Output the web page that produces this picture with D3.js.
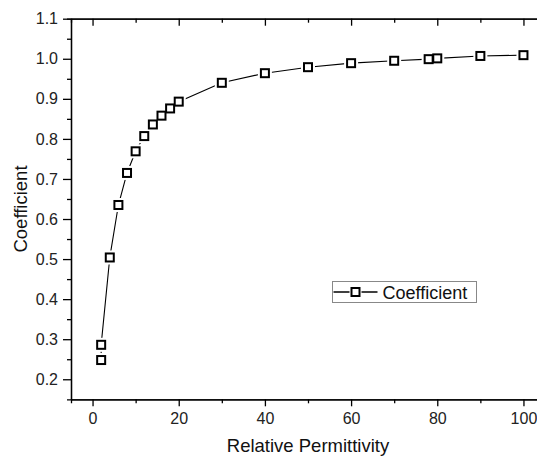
<!DOCTYPE html>
<html>
<head>
<meta charset="utf-8">
<script src="https://cdn.jsdelivr.net/npm/d3@7"></script>
<style>
  body { margin: 0; background: #fff; }
  svg { display: block; font-family: Arial, "Liberation Sans", sans-serif; }
  .axis path, .axis line { stroke: #000; stroke-width: 1.3; }
  .axis text { fill: #222; font-size: 16px; }
</style>
</head>
<body>
<svg width="537" height="459"></svg>
<script>
// relative permittivity values
var permittivity = [2, 2, 4, 6, 8, 10, 12, 14, 16, 18, 20, 30, 40, 50, 60, 70, 78, 80, 90, 100];
// coefficient at each permittivity
var coefficient = [0.248, 0.286, 0.504, 0.635, 0.715, 0.769, 0.807, 0.836, 0.858, 0.876, 0.893, 0.940, 0.964, 0.979, 0.989, 0.995, 0.999, 1.001, 1.007, 1.009];
var xMajor = [0, 20, 40, 60, 80, 100];
var xMinor = [10, 30, 50, 70, 90];
var yMajor = [0.2, 0.3, 0.4, 0.5, 0.6, 0.7, 0.8, 0.9, 1.0, 1.1];
var yMinor = [0.25, 0.35, 0.45, 0.55, 0.65, 0.75, 0.85, 0.95, 1.05];
var seriesName = "Coefficient";

var svg = d3.select("svg");
// plot frame (note: "top" would clash with window.top)
var frame = {left: 71, right: 545, top: 18.7, bottom: 399.3};

var x = d3.scaleLinear().domain([-5, 105]).range([frame.left, frame.right]);
var y = d3.scaleLinear().domain([0.15, 1.1]).range([frame.bottom, frame.top]);

// minor ticks first, then the major axes on top
svg.append("g").attr("class", "axis")
    .attr("transform", "translate(0," + frame.bottom + ")")
    .call(d3.axisBottom(x).tickValues(xMinor).tickSize(4).tickFormat(""));
svg.append("g").attr("class", "axis")
    .attr("transform", "translate(0," + frame.bottom + ")")
    .call(d3.axisBottom(x).tickValues(xMajor).tickSizeInner(7).tickSizeOuter(0).tickPadding(6))
    .selectAll("text").attr("dy", "0.75em");

svg.append("g").attr("class", "axis")
    .attr("transform", "translate(0," + frame.top + ")")
    .call(d3.axisTop(x).tickValues(xMinor).tickSize(-4).tickFormat(""));
svg.append("g").attr("class", "axis")
    .attr("transform", "translate(0," + frame.top + ")")
    .call(d3.axisTop(x).tickValues(xMajor).tickSizeInner(-7).tickSizeOuter(0).tickFormat(""));

svg.append("g").attr("class", "axis")
    .attr("transform", "translate(" + frame.left + ",0)")
    .call(d3.axisLeft(y).tickValues(yMinor).tickSize(4).tickFormat(""));
svg.append("g").attr("class", "axis")
    .attr("transform", "translate(" + frame.left + ",0)")
    .call(d3.axisLeft(y).tickValues(yMajor).tickSizeInner(8).tickSizeOuter(0).tickPadding(5).tickFormat(d3.format(".1f")));

// axis titles
svg.append("text")
    .attr("x", (frame.left + frame.right) / 2).attr("y", 452)
    .attr("text-anchor", "middle")
    .attr("font-size", 18.5).attr("fill", "#111")
    .text("Relative Permittivity");
svg.append("text")
    .attr("transform", "translate(27," + ((frame.top + frame.bottom) / 2) + ") rotate(-90)")
    .attr("text-anchor", "middle")
    .attr("font-size", 18.5).attr("fill", "#111")
    .text("Coefficient");

// data line
var pts = permittivity.map(function(p, i){ return [p, coefficient[i]]; });
var line = d3.line().x(function(d){ return x(d[0]); }).y(function(d){ return y(d[1]); });
svg.append("path").datum(pts)
    .attr("d", line)
    .attr("fill", "none").attr("stroke", "#000").attr("stroke-width", 1.1);

// white gap round each symbol, then the open square
var sym = svg.append("g");
sym.selectAll("rect.gap").data(pts).enter().append("rect")
    .attr("class", "gap")
    .attr("x", function(d){ return x(d[0]) - 7; })
    .attr("y", function(d){ return y(d[1]) - 7; })
    .attr("width", 14).attr("height", 14)
    .attr("fill", "#fff");
sym.selectAll("rect.mk").data(pts).enter().append("rect")
    .attr("class", "mk")
    .attr("x", function(d){ return x(d[0]) - 4; })
    .attr("y", function(d){ return y(d[1]) - 4; })
    .attr("width", 8).attr("height", 8)
    .attr("fill", "#fff").attr("stroke", "#000").attr("stroke-width", 2);

// legend
var lg = svg.append("g").attr("transform", "translate(332.5,281.5)");
lg.append("rect").attr("width", 144).attr("height", 21)
    .attr("fill", "#fff").attr("stroke", "#888").attr("stroke-width", 1);
lg.append("line").attr("x1", 1).attr("x2", 45).attr("y1", 10.5).attr("y2", 10.5)
    .attr("stroke", "#000").attr("stroke-width", 1.3);
lg.append("rect").attr("x", 17).attr("y", 4.5).attr("width", 12).attr("height", 12).attr("fill", "#fff");
lg.append("rect").attr("x", 19).attr("y", 6.5).attr("width", 8).attr("height", 8)
    .attr("fill", "#fff").attr("stroke", "#000").attr("stroke-width", 2);
lg.append("text").attr("x", 50).attr("y", 17)
    .attr("font-size", 18).attr("fill", "#111")
    .text(seriesName);
</script>
</body>
</html>
